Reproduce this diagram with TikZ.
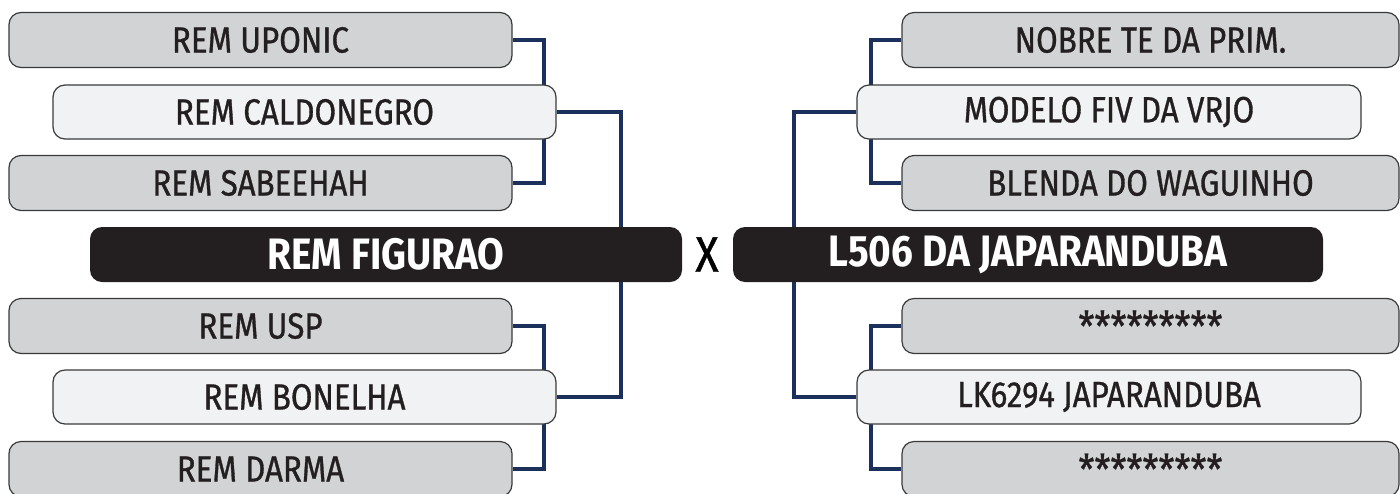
\documentclass[tikz,border=0pt]{standalone}
\usepackage{fontspec}
\setmainfont{Fira Sans}
\newfontfamily\boxfont{Fira Sans}[FakeStretch=0.86, FakeBold=0.9]
\newfontfamily\headfont{Fira Sans Bold}[FakeStretch=0.88]
\usetikzlibrary{backgrounds}
\definecolor{boxgray}{HTML}{D1D3D4}
\definecolor{boxlight}{HTML}{F1F2F3}
\definecolor{boxdark}{HTML}{231F20}
\definecolor{navy}{HTML}{1B305A}
\definecolor{edgegray}{HTML}{3A3A3A}
\definecolor{txt}{HTML}{231F20}
\tikzset{
  basebox/.style={rounded corners=6pt, inner sep=0pt, minimum height=27.5pt, text=txt, font=\boxfont\fontsize{18.2}{21}\selectfont},
  graybox/.style={basebox, draw=edgegray, line width=0.6pt, fill=boxgray},
  lightbox/.style={basebox, draw=edgegray, line width=0.6pt, fill=boxlight, minimum height=27pt},
  darkbox/.style={basebox, fill=boxdark, text=white, font=\headfont\fontsize{22}{25}\selectfont},
  stars/.style={font=\boxfont\fontsize{21}{24}\selectfont}
}
\tikzset{link/.style={draw=navy, line width=2pt}}
\begin{document}
\begin{tikzpicture}[x=0.5pt,y=-0.5pt]
\useasboundingbox (0,0) rectangle (1400,493);
% left side
\node[graybox, minimum width=251.5pt] (uponic) at (260.5,40) {REM UPONIC};
\node[lightbox, minimum width=251.5pt] (caldonegro) at (304.5,112) {REM CALDONEGRO};
\node[graybox, minimum width=251.5pt] (sabeehah) at (260.5,183) {REM SABEEHAH};
\node[darkbox, minimum width=296pt] (figurao) at (386,254.5) {REM FIGURAO};
\node[graybox, minimum width=251.5pt] (usp) at (260.5,326) {REM USP};
\node[lightbox, minimum width=251.5pt] (bonelha) at (304.5,397) {REM BONELHA};
\node[graybox, minimum width=251.5pt] (darma) at (260.5,469) {REM DARMA};
% middle
\node[text=black, font=\boxfont\fontsize{25}{27}\selectfont, inner sep=0pt] (vs) at (707,254.5) {X};
% right side
\node[graybox, minimum width=248.5pt] (nobre) at (1150.5,40) {NOBRE TE DA PRIM.};
\node[lightbox, minimum width=252pt] (modelo) at (1109,112) {MODELO FIV DA VRJO};
\node[graybox, minimum width=248.5pt] (blenda) at (1150.5,183) {BLENDA DO WAGUINHO};
\node[darkbox, minimum width=295pt] (lsix) at (1028,254.5) {L506 DA JAPARANDUBA};
\node[graybox, stars, minimum width=248.5pt] (asta) at (1150.5,326) {*********};
\node[lightbox, minimum width=252pt] (lk) at (1109,397) {LK6294 JAPARANDUBA};
\node[graybox, stars, minimum width=248.5pt] (astb) at (1150.5,469) {*********};
\begin{pgfonlayer}{background}
\draw[link] (uponic.east) -- ++(31,0) |- (sabeehah.east);
\draw[link] (caldonegro.east) -- ++(64,0) |- (bonelha.east);
\draw[link] (usp.east) -- ++(31,0) |- (darma.east);
\draw[link] (nobre.west) -- ++(-30,0) |- (blenda.west);
\draw[link] (modelo.west) -- ++(-62,0) |- (lk.west);
\draw[link] (asta.west) -- ++(-30,0) |- (astb.west);
\end{pgfonlayer}
\end{tikzpicture}
\end{document}
